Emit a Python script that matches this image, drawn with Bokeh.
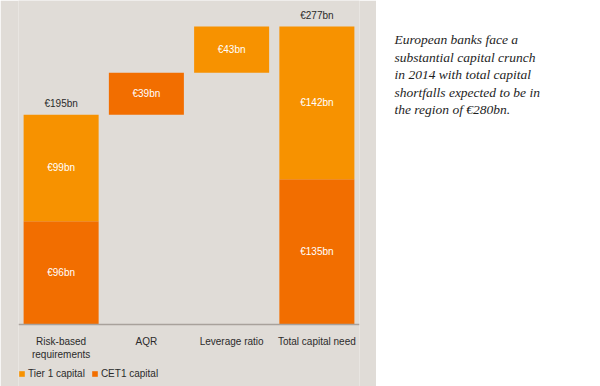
from bokeh.plotting import figure
from bokeh.models import ColumnDataSource, Legend, LegendItem, Label
from bokeh.layouts import row
from bokeh.embed import file_html
from bokeh.resources import INLINE
from bokeh.core.properties import value

# ---- data ----
categories = ["Risk-based\nrequirements", "AQR", "Leverage ratio", "Total capital need"]
cet1 = [96, 39, 0, 135]
tier1 = [99, 0, 43, 142]
is_total = [False, False, False, True]
show_total = [True, False, False, True]
note_lines = [
    "European banks face a",
    "substantial capital crunch",
    "in 2014 with total capital",
    "shortfalls expected to be in",
    "the region of \u20ac280bn.",
]

TIER1_COL = "#F79200"
CET1_COL = "#F26E00"
BG = "#E0DCD7"
FONT = "Liberation Sans"

# waterfall bases
bases = []
running = 0
for c, t, tot in zip(cet1, tier1, is_total):
    if tot:
        bases.append(0)
    else:
        bases.append(running)
        running += c + t

def seg(vals, lower):
    xs, b, t, mid, lab = [], [], [], [], []
    for cat, v, lo in zip(categories, vals, lower):
        if v > 0:
            xs.append(cat); b.append(lo); t.append(lo + v)
            mid.append(lo + v / 2); lab.append("\u20ac%dbn" % v)
    return dict(x=xs, bottom=b, top=t, mid=mid, label=lab)

cet_src = ColumnDataSource(seg(cet1, bases))
tier_src = ColumnDataSource(seg(tier1, [b + c for b, c in zip(bases, cet1)]))

tot_x, tot_y, tot_lab = [], [], []
for cat, b, c, t, s in zip(categories, bases, cet1, tier1, show_total):
    if s:
        tot_x.append(cat); tot_y.append(b + c + t); tot_lab.append("\u20ac%dbn" % (b + c + t))
tot_src = ColumnDataSource(dict(x=tot_x, y=tot_y, label=tot_lab))

H = 386
p = figure(x_range=categories, y_range=(-57.63, 301.17), width=376, height=H,
           output_backend="svg", toolbar_location=None,
           min_border_left=18, min_border_right=17, min_border_top=0,
           min_border_bottom=0)
p.background_fill_color = BG
p.border_fill_color = BG
p.outline_line_color = None
p.xgrid.visible = False
p.ygrid.visible = False
p.yaxis.visible = False
p.x_range.range_padding = 0

r_cet = p.vbar(x="x", bottom="bottom", top="top", width=0.88, source=cet_src,
               fill_color=CET1_COL, line_color=None)
r_tier = p.vbar(x="x", bottom="bottom", top="top", width=0.88, source=tier_src,
                fill_color=TIER1_COL, line_color=None)

for src in (cet_src, tier_src):
    p.text(x="x", y="mid", text="label", source=src, text_color="white",
           text_font=value(FONT), text_font_size="10px",
           text_align="center", text_baseline="middle")

p.text(x="x", y="y", text="label", source=tot_src, text_color="#2b2b2b",
       text_font=value(FONT), text_font_size="10px",
       text_align="center", text_baseline="bottom", y_offset=-6)

ax = p.xaxis[0]
ax.fixed_location = 0
ax.axis_line_color = "#A8A19B"
ax.axis_line_width = 1.5
ax.major_tick_line_color = None
ax.minor_tick_line_color = None
ax.major_label_text_font = FONT
ax.major_label_text_font_size = "10px"
ax.major_label_text_color = "#2b2b2b"
ax.major_label_standoff = 5

legend = Legend(items=[LegendItem(label="Tier 1 capital", renderers=[r_tier]),
                       LegendItem(label="CET1 capital", renderers=[r_cet])],
                orientation="horizontal", location=(0, 7),
                background_fill_alpha=0, border_line_color=None,
                padding=0, margin=0, spacing=6,
                glyph_width=7, glyph_height=7, label_standoff=3,
                label_height=10, label_text_font=FONT,
                label_text_font_size="10px", label_text_color="#2b2b2b")
p.add_layout(legend, "center")

# ---- right-hand note ----
q = figure(x_range=(0, 1), y_range=(0, 1), width=224, height=H,
           output_backend="svg", toolbar_location=None,
           min_border=0)
q.axis.visible = False
q.grid.visible = False
q.outline_line_color = None
q.background_fill_color = "white"
q.border_fill_color = "white"
for i, line in enumerate(note_lines):
    q.add_layout(Label(x=18, y=H - (39 + 17.6 * i), x_units="screen", y_units="screen",
                       text=line, text_font="Liberation Serif", text_font_style="italic",
                       text_font_size="13.5px", text_color="#1e1e1e",
                       text_baseline="alphabetic", text_align="left"))

layout = row(p, q, spacing=0)
open("out.html", "w").write(file_html(layout, INLINE))
